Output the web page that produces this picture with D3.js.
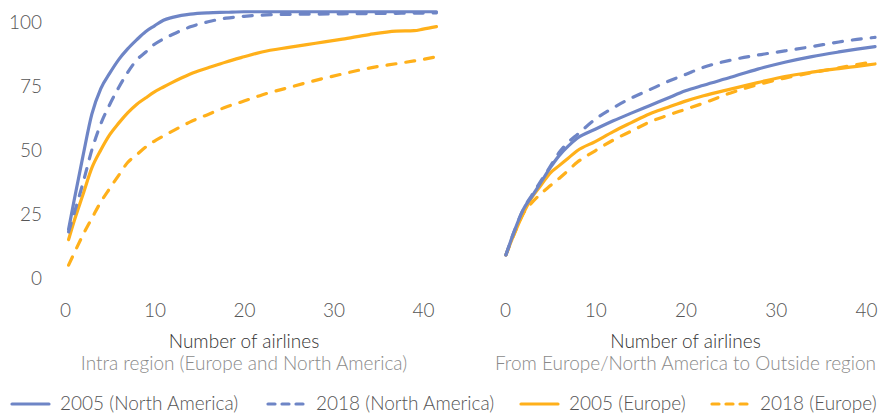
<!DOCTYPE html>
<html>
<head>
<meta charset="utf-8">
<script src="https://cdn.jsdelivr.net/npm/d3@7/dist/d3.min.js"></script>
<style>
  html, body { margin: 0; padding: 0; background: #ffffff; }
  svg { display: block; font-family: Lato, "Open Sans", sans-serif; font-weight: 300; }
</style>
</head>
<body>
<svg id="chart" width="885" height="415"></svg>
<script>
// ---------- DATA ----------
const seriesNames = ["2005 (North America)", "2018 (North America)", "2005 (Europe)", "2018 (Europe)"];
const yTicks = [0, 25, 50, 75, 100];
const xTicks = [0, 10, 20, 30, 40];
const xTitle = "Number of airlines";
const panelSubtitles = ["Intra region (Europe and North America)", "From Europe/North America to Outside region"];

// Left panel: intra region
const leftX = [0.4, 1, 2, 3, 4, 5, 6, 7, 8, 9, 10, 11, 12, 13, 14, 16, 18, 20, 22, 25, 28, 31, 34, 37, 39, 40, 41.5];
const left2005NA = [19, 30, 47.5, 64, 74, 80, 85.3, 89.5, 93, 96.2, 98.5, 100.7, 101.8, 102.6, 103.1, 103.6, 103.8, 104, 104, 104, 104, 104, 104, 104, 104, 104, 104];
const left2018NA = [18, 25, 37, 50, 60.2, 67.8, 74.4, 80.3, 85.1, 88.2, 91.3, 93.4, 95.1, 96.7, 98.1, 100.1, 101.5, 102.2, 102.7, 103, 103.1, 103.2, 103.3, 103.4, 103.5, 103.5, 103.6];
const left2005EU = [15, 22, 32.5, 43, 50, 56, 60.5, 64.5, 67.8, 70.3, 72.7, 74.6, 76.4, 78.1, 79.7, 82.1, 84.4, 86.4, 88.3, 90.1, 91.7, 93.3, 95.1, 96.4, 96.6, 97.2, 98.2];
const left2018EU = [5, 9.5, 16.8, 23.3, 29.7, 35, 40.1, 45.1, 48.1, 51.1, 53.5, 55.5, 57.4, 59.2, 61, 63.9, 66.8, 69.1, 71.5, 74.4, 77.2, 79.7, 82, 83.7, 84.8, 85.4, 86.4];

// Right panel: Europe / North America to outside region
const rightX = [0.1, 1, 2, 3, 4, 5, 6, 7, 8, 10, 12, 14, 16, 18, 20, 22, 25, 28, 31, 34, 37, 39, 41];
const right2005NA = [9, 18, 26.6, 32, 37.5, 43, 47.8, 51.5, 54.6, 58.1, 61.4, 64.4, 67.3, 70.2, 73.1, 75.3, 78.4, 81.6, 84.3, 86.5, 88.3, 89.4, 90.4];
const right2018NA = [9, 18, 26.6, 32.5, 38, 43.5, 49, 53, 56, 62, 66.5, 70.3, 73.5, 76.7, 79.5, 82.3, 85.1, 87.1, 88.7, 90.4, 92.2, 93.2, 94];
const right2005EU = [9, 17, 25, 31.6, 36.3, 41, 43.9, 46.8, 49.7, 53.3, 57.2, 60.7, 64.1, 66.6, 69.1, 71.2, 73.8, 76.3, 78.7, 80.4, 81.8, 82.7, 83.6];
const right2018EU = [9, 17, 25, 29.5, 33, 36, 38.9, 42, 45.2, 49.7, 53.9, 57.4, 60.9, 63.5, 65.9, 68.3, 72.3, 75.5, 78.1, 80.2, 82.1, 83.4, 84.5];

// ---------- STYLE ----------
const BLUE = "#6E85C6", ORANGE = "#FFB01A";
const styles = [
  { color: BLUE, dash: null },
  { color: BLUE, dash: "9,10" },
  { color: ORANGE, dash: null },
  { color: ORANGE, dash: "9,10" }
];

const svg = d3.select("#chart");
const y = d3.scaleLinear().domain([0, 100]).range([278, 22]);
const xLeft = d3.scaleLinear().domain([0, 40]).range([65, 423]);
const xRight = d3.scaleLinear().domain([0, 40]).range([505, 866]);

// Y axis (left only)
const yAxisG = svg.append("g").attr("transform", "translate(42,0)")
  .call(d3.axisLeft(y).tickValues(yTicks).tickSize(0).tickPadding(0));
yAxisG.select(".domain").remove();
yAxisG.selectAll("text").attr("font-size", 19).attr("font-family", "Lato").attr("font-weight", 300).attr("fill", "#555555");

function drawPanel(xs, xVals, seriesList, subtitle) {
  const ax = svg.append("g").attr("transform", "translate(0,303.5)")
    .call(d3.axisBottom(xs).tickValues(xTicks).tickSize(0).tickPadding(0));
  ax.select(".domain").remove();
  ax.selectAll("text").attr("font-size", 19).attr("font-family", "Lato").attr("font-weight", 300).attr("fill", "#555555");

  const cx = (xs.range()[0] + xs.range()[1]) / 2;
  svg.append("text").attr("x", cx).attr("y", 348).attr("text-anchor", "middle")
    .attr("font-size", 19).attr("fill", "#333333").text(xTitle);
  svg.append("text").attr("x", cx).attr("y", 370).attr("text-anchor", "middle")
    .attr("font-size", 19).attr("fill", "#8a8a8a").text(subtitle);

  const line = d3.line().x(d => xs(d[0])).y(d => y(d[1])).curve(d3.curveMonotoneX);
  [3, 2, 1, 0].forEach(i => {
    const pts = xVals.map((xv, k) => [xv, seriesList[i][k]]);
    const p = svg.append("path").datum(pts)
      .attr("d", line)
      .attr("fill", "none")
      .attr("stroke", styles[i].color)
      .attr("stroke-width", 3.2)
      .attr("stroke-linecap", "round")
      .attr("stroke-linejoin", "round");
    if (styles[i].dash) p.attr("stroke-dasharray", styles[i].dash);
  });
}

drawPanel(xLeft, leftX, [left2005NA, left2018NA, left2005EU, left2018EU], panelSubtitles[0]);
drawPanel(xRight, rightX, [right2005NA, right2018NA, right2005EU, right2018EU], panelSubtitles[1]);

// Legend
const legendX = [12, 268, 521, 712];
const legY = 404;
seriesNames.forEach((name, i) => {
  const g = svg.append("g").attr("transform", `translate(${legendX[i]},0)`);
  const l = g.append("line").attr("x1", 0).attr("x2", 37).attr("y1", legY).attr("y2", legY)
    .attr("stroke", styles[i].color).attr("stroke-width", 3.2).attr("stroke-linecap", "round");
  if (styles[i].dash) l.attr("stroke-dasharray", "7,7");
  g.append("text").attr("x", 48).attr("y", 410).attr("font-size", 19)
    .attr("fill", "#555555").text(name);
});
</script>
</body>
</html>
